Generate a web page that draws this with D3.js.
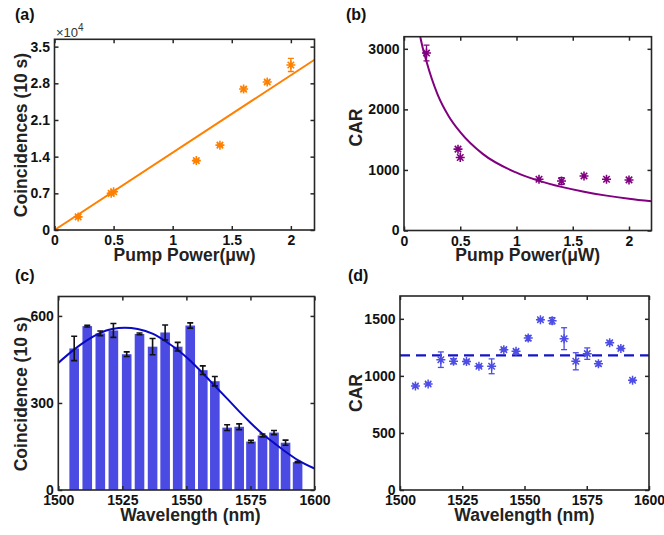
<!DOCTYPE html>
<html>
<head>
<meta charset="utf-8">
<script src="https://cdn.jsdelivr.net/npm/d3@7"></script>
<style>
  body { margin: 0; background: #fff; }
  svg { display: block; font-family: "Liberation Sans", Arial, sans-serif; }
</style>
</head>
<body>
<svg id="chart" width="664" height="535"></svg>
<script>
// ---------- Data ----------
// (a) Coincidences vs pump power
const powerA = [0.2, 0.48, 0.5, 1.2, 1.4, 1.6, 1.8, 2.0];
const coincA = [2500, 7000, 7300, 13250, 16200, 26900, 28250, 31500];
const coincErrA = [150, 200, 200, 200, 250, 300, 300, 1250];
const fitAx = [0, 2.2];
const fitAy = [0, 32500];
const ticksAy = [0, 7000, 14000, 21000, 28000, 35000];
const tickLabelsAy = ["0", "0.7", "1.4", "2.1", "2.8", "3.5"];
const ticksPower = [0, 0.5, 1, 1.5, 2];

// (b) CAR vs pump power
const powerB = [0.2, 0.48, 0.5, 1.2, 1.4, 1.6, 1.8, 2.0];
const carB = [2930, 1343, 1205, 846, 818, 901, 846, 835];
const carErrB = [130, 0, 0, 0, 55, 0, 0, 0];
const fitBx = [0.136, 0.15, 0.2, 0.3, 0.4, 0.5, 0.7, 1.0, 1.2, 1.4, 1.6, 1.8, 2.0, 2.2];
const fitBy = [3290, 3150, 2790, 2240, 1880, 1625, 1265, 955, 820, 720, 640, 576, 524, 481];
const ticksBy = [0, 1000, 2000, 3000];

// (c) Coincidence vs wavelength
const wavelengths = [1506.2, 1511.3, 1516.4, 1521.5, 1526.7, 1531.7, 1536.8, 1541.7, 1546.6, 1551.5,
                     1556.4, 1561.1, 1565.9, 1570.6, 1575.2, 1579.7, 1584.2, 1588.7, 1593.4];
const coincC = [488, 565, 540, 550, 468, 538, 494, 543, 494, 567, 413, 375, 215, 218, 167, 188, 198, 163, 96];
const coincErrC = [42, 3, 8, 24, 8, 3, 28, 26, 15, 9, 15, 16, 10, 10, 4, 5, 7, 9, 2];
const fitCx = [1500, 1506, 1511, 1516, 1521, 1526, 1531, 1537, 1542, 1547, 1551, 1556, 1561, 1566, 1570.5, 1575, 1580, 1584.5, 1589, 1593.5, 1600];
const fitCy = [438, 483, 515, 540, 555, 559, 555, 538, 512, 480, 450, 406, 360, 314, 272, 232, 191, 160, 130, 103, 74];
const ticksCy = [0, 300, 600];
const ticksWave = [1500, 1525, 1550, 1575, 1600];

// (d) CAR vs wavelength
const carD = [912, 929, 1142, 1128, 1125, 1084, 1084, 1230, 1215, 1331, 1492, 1483, 1326, 1128, 1195, 1107, 1291, 1241, 961];
const carErrD = [12, 12, 68, 22, 12, 10, 65, 12, 15, 22, 10, 28, 96, 75, 50, 18, 15, 10, 10];
const carMeanD = 1180;
const ticksDy = [0, 500, 1000, 1500];

// ---------- Helpers ----------
const svg = d3.select("#chart");
const AXIS = "#262626";

function starPath(r) {
  const d = r * 0.72;
  return `M${-r},0L${r},0M0,${-r}L0,${r}M${-d},${-d}L${d},${d}M${-d},${d}L${d},${-d}`;
}

function makePanel(cfg) {
  const g = svg.append("g");
  const x = d3.scaleLinear().domain(cfg.xDomain).range([cfg.left, cfg.right]);
  const y = d3.scaleLinear().domain(cfg.yDomain).range([cfg.bottom, cfg.top]);
  const clipId = "clip-" + cfg.id;
  svg.append("clipPath").attr("id", clipId).append("rect")
    .attr("x", cfg.left).attr("y", cfg.top)
    .attr("width", cfg.right - cfg.left).attr("height", cfg.bottom - cfg.top);
  const plot = g.append("g").attr("clip-path", `url(#${clipId})`);

  // axes with inward ticks on all 4 sides
  const tl = 4;
  const xb = d3.axisBottom(x).tickValues(cfg.xTicks).tickSizeInner(-tl).tickSizeOuter(0).tickPadding(5.5)
    .tickFormat(cfg.xFormat || d3.format("~g"));
  const yl = d3.axisLeft(y).tickValues(cfg.yTicks).tickSizeInner(-tl).tickSizeOuter(0).tickPadding(4.5)
    .tickFormat(cfg.yFormat || d3.format("~g"));
  const xt = d3.axisTop(x).tickValues(cfg.xTicks).tickSizeInner(-tl).tickSizeOuter(0).tickFormat("");
  const yr = d3.axisRight(y).tickValues(cfg.yTicks).tickSizeInner(-tl).tickSizeOuter(0).tickFormat("");

  const axG = g.append("g");
  axG.append("g").attr("transform", `translate(0,${cfg.bottom})`).call(xb);
  axG.append("g").attr("transform", `translate(${cfg.left},0)`).call(yl);
  axG.append("g").attr("transform", `translate(0,${cfg.top})`).call(xt);
  axG.append("g").attr("transform", `translate(${cfg.right},0)`).call(yr);
  axG.selectAll(".domain").remove();
  axG.selectAll(".tick line").attr("stroke", AXIS).attr("stroke-width", 1.5);
  axG.selectAll(".tick text").attr("fill", "#111").attr("font-size", 14).attr("font-weight", "bold")
    .attr("font-family", "Liberation Sans, Arial, sans-serif");

  g.append("rect").attr("x", cfg.left).attr("y", cfg.top)
    .attr("width", cfg.right - cfg.left).attr("height", cfg.bottom - cfg.top)
    .attr("fill", "none").attr("stroke", AXIS).attr("stroke-width", 1.6);

  // labels
  g.append("text").attr("x", (cfg.left + cfg.right) / 2 + (cfg.xLabelDx || 0)).attr("y", cfg.xLabelY)
    .attr("text-anchor", "middle").attr("font-size", 17.5).attr("font-weight", "bold").attr("fill", "#222")
    .text(cfg.xLabel);
  g.append("text").attr("transform", `translate(${cfg.yLabelX},${cfg.yLabelCy}) rotate(-90)`)
    .attr("text-anchor", "middle").attr("font-size", 17.5).attr("font-weight", "bold").attr("fill", "#222")
    .text(cfg.yLabel);
  g.append("text").attr("x", cfg.tagX).attr("y", cfg.tagY)
    .attr("font-size", 16).attr("font-weight", "bold").attr("fill", "#111").text(cfg.tag);

  return { g, plot, x, y };
}

function errorBars(layer, xs, ys, es, x, y, color, cap, width) {
  xs.forEach((xv, i) => {
    const e = es[i];
    if (!e) return;
    const cx = x(xv), y0 = y(ys[i] - e), y1 = y(ys[i] + e);
    layer.append("line").attr("x1", cx).attr("x2", cx).attr("y1", y0).attr("y2", y1)
      .attr("stroke", color).attr("stroke-width", width);
    [y0, y1].forEach(yy => layer.append("line").attr("x1", cx - cap).attr("x2", cx + cap)
      .attr("y1", yy).attr("y2", yy).attr("stroke", color).attr("stroke-width", width));
  });
}

function stars(layer, xs, ys, x, y, color, r, w) {
  layer.selectAll(null).data(xs.map((v, i) => [v, ys[i]])).join("path")
    .attr("transform", d => `translate(${x(d[0])},${y(d[1])})`)
    .attr("d", starPath(r)).attr("stroke", color).attr("stroke-width", w).attr("fill", "none");
}

// ---------- Panel (a) ----------
{
  const orange = "#ff8000";
  const p = makePanel({
    id: "a", left: 54.5, right: 314.5, top: 39.3, bottom: 230,
    xDomain: [0, 2.2], yDomain: [0, 36400], xTicks: ticksPower, yTicks: ticksAy,
    yFormat: (d, i) => tickLabelsAy[ticksAy.indexOf(d)],
    xLabel: "Pump Power(\u03bcw)", xLabelY: 261,
    yLabel: "Coincidences (10 s)", yLabelX: 26.5, yLabelCy: 135,
    tag: "(a)", tagX: 15, tagY: 20
  });
  const line = d3.line().x((d, i) => p.x(fitAx[i])).y((d, i) => p.y(fitAy[i]));
  p.plot.append("path").datum(fitAx).attr("d", line).attr("fill", "none")
    .attr("stroke", orange).attr("stroke-width", 2);
  errorBars(p.plot, powerA, coincA, coincErrA, p.x, p.y, orange, 3, 1.3);
  stars(p.plot, powerA, coincA, p.x, p.y, orange, 4.5, 1.6);
  const mult = p.g.append("text").attr("x", 56).attr("y", 36.5).attr("font-size", 13).attr("fill", "#333");
  mult.append("tspan").text("\u00d710");
  mult.append("tspan").attr("dy", -6).attr("font-size", 10).text("4");
}

// ---------- Panel (b) ----------
{
  const purple = "#800080";
  const p = makePanel({
    id: "b", left: 404, right: 651.5, top: 36.7, bottom: 230.5,
    xDomain: [0, 2.2], yDomain: [0, 3200], xTicks: ticksPower, yTicks: ticksBy,
    xLabel: "Pump Power(\u03bcW)", xLabelY: 261,
    yLabel: "CAR", yLabelX: 361.5, yLabelCy: 127.5,
    tag: "(b)", tagX: 346, tagY: 20
  });
  const line = d3.line().curve(d3.curveMonotoneX).x((d, i) => p.x(fitBx[i])).y((d, i) => p.y(fitBy[i]));
  p.plot.append("path").datum(fitBx).attr("d", line).attr("fill", "none")
    .attr("stroke", purple).attr("stroke-width", 2);
  errorBars(p.plot, powerB, carB, carErrB, p.x, p.y, purple, 3, 1.3);
  stars(p.plot, powerB, carB, p.x, p.y, purple, 4.5, 1.6);
}

// ---------- Panel (c) ----------
{
  const barColor = "#4b4be3";
  const p = makePanel({
    id: "c", left: 58.3, right: 314.5, top: 296.5, bottom: 490,
    xDomain: [1500, 1600], yDomain: [0, 667], xTicks: ticksWave, yTicks: ticksCy,
    xLabel: "Wavelength (nm)", xLabelY: 521, xLabelDx: 4,
    yLabel: "Coincidence (10 s)", yLabelX: 26.5, yLabelCy: 394,
    tag: "(c)", tagX: 15, tagY: 281
  });
  const bw = 3.75; // nm
  p.plot.selectAll(null).data(wavelengths.map((w, i) => [w, coincC[i]])).join("rect")
    .attr("x", d => p.x(d[0] - bw / 2)).attr("width", p.x(1500 + bw) - p.x(1500))
    .attr("y", d => p.y(d[1])).attr("height", d => p.y(0) - p.y(d[1]))
    .attr("fill", barColor);
  const line = d3.line().curve(d3.curveMonotoneX).x((d, i) => p.x(fitCx[i])).y((d, i) => p.y(fitCy[i]));
  p.plot.append("path").datum(fitCx).attr("d", line).attr("fill", "none")
    .attr("stroke", "#0a0ac4").attr("stroke-width", 2);
  errorBars(p.plot, wavelengths, coincC, coincErrC, p.x, p.y, "#111", 3, 1.6);
}

// ---------- Panel (d) ----------
{
  const starColor = "#4d4de6";
  const p = makePanel({
    id: "d", left: 400, right: 649, top: 296, bottom: 490,
    xDomain: [1500, 1600], yDomain: [0, 1700], xTicks: ticksWave, yTicks: ticksDy,
    xLabel: "Wavelength (nm)", xLabelY: 521,
    yLabel: "CAR", yLabelX: 361.5, yLabelCy: 393,
    tag: "(d)", tagX: 348, tagY: 281
  });
  p.plot.append("line").attr("x1", p.x(1500)).attr("x2", p.x(1600))
    .attr("y1", p.y(carMeanD)).attr("y2", p.y(carMeanD))
    .attr("stroke", "#1414c8").attr("stroke-width", 2.2).attr("stroke-dasharray", "10,6");
  errorBars(p.plot, wavelengths, carD, carErrD, p.x, p.y, starColor, 3, 1.3);
  stars(p.plot, wavelengths, carD, p.x, p.y, starColor, 4.5, 1.5);
}
</script>
</body>
</html>
